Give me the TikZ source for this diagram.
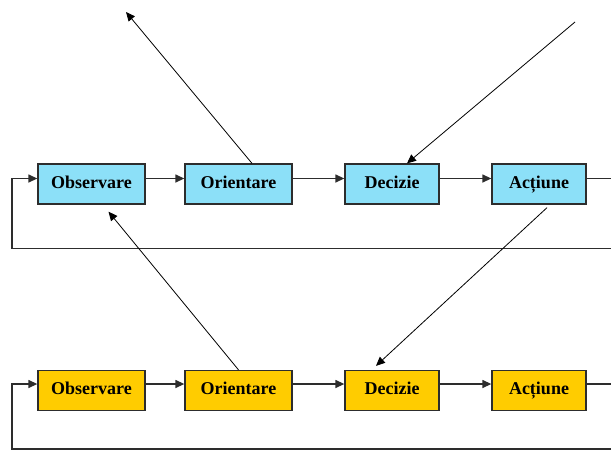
\documentclass[tikz,border=0pt]{standalone}
\usepackage{fontspec}
\setmainfont{Liberation Serif}
\usetikzlibrary{arrows.meta}
\definecolor{boxblue}{RGB}{140,224,248}
\definecolor{boxgold}{RGB}{255,204,0}
\definecolor{linegray}{RGB}{45,45,45}
\tikzset{
  stage/.style={draw=linegray, line width=1.3pt, minimum height=40pt, inner sep=0pt,
    text height=11.5pt, text depth=3.5pt,
    font=\fontsize{18}{21}\selectfont\bfseries},
  wide/.style={minimum width=107pt},
  narrow/.style={minimum width=94pt},
  blue stage/.style={stage, fill=boxblue},
  gold stage/.style={stage, fill=boxgold},
  flow/.style={draw=linegray, line width=1.3pt},
  flowarrow/.style={flow, -{Triangle[length=9pt,width=8pt]}},
  link/.style={draw=black, line width=0.8pt, -{Triangle[length=9pt,width=8pt]}}
}
\begin{document}
\begin{tikzpicture}[x=1pt,y=-1pt]
\useasboundingbox (0,0) rectangle (611,451);

% upper loop
\node[blue stage, wide]   (obs1) at (91.5,184) {Observare};
\node[blue stage, wide]   (ori1) at (238.5,184) {Orientare};
\node[blue stage, narrow] (dec1) at (392,184) {Decizie};
\node[blue stage, narrow] (act1) at (539,184) {Acțiune};

% lower loop
\node[gold stage, wide]   (obs2) at (91.5,390.5) {Observare};
\node[gold stage, wide]   (ori2) at (238.5,390.5) {Orientare};
\node[gold stage, narrow] (dec2) at (392,390.5) {Decizie};
\node[gold stage, narrow] (act2) at (539,390.5) {Acțiune};

% free ends
\coordinate (out1) at (611,178.5);
\coordinate (back1) at (611,248.5);
\coordinate (left1) at (12,248.5);
\coordinate (out2) at (611,384);
\coordinate (back2) at (611,449);
\coordinate (left2) at (12,449);
\coordinate (upleft) at (126,12);
\coordinate (upright) at (575,22);

% upper chain
\draw[flowarrow] ([yshift=5.5pt]obs1.east) -- ([yshift=5.5pt]ori1.west);
\draw[flowarrow] ([yshift=5.5pt]ori1.east) -- ([yshift=5.5pt]dec1.west);
\draw[flowarrow] ([yshift=5.5pt]dec1.east) -- ([yshift=5.5pt]act1.west);
\draw[flow] ([yshift=5.5pt]act1.east) -- (out1);
\draw[flowarrow] (back1) -- (left1) |- ([yshift=5.5pt]obs1.west);

% lower chain
\draw[flowarrow] ([yshift=6.5pt]obs2.east) -- ([yshift=6.5pt]ori2.west);
\draw[flowarrow] ([yshift=6.5pt]ori2.east) -- ([yshift=6.5pt]dec2.west);
\draw[flowarrow] ([yshift=6.5pt]dec2.east) -- ([yshift=6.5pt]act2.west);
\draw[flow] ([yshift=6.5pt]act2.east) -- (out2);
\draw[flowarrow] (back2) -- (left2) |- ([yshift=6.5pt]obs2.west);

% cross links
\draw[link] ([xshift=13.5pt]ori1.north) -- (upleft);
\draw[link] (upright) -- ([xshift=15pt]dec1.north);
\draw[link] (ori2.north) -- ([xshift=17pt,yshift=-7pt]obs1.south);
\draw[link] ([xshift=8pt,yshift=-3pt]act1.south) -- ([xshift=-16pt,yshift=4pt]dec2.north);
\end{tikzpicture}
\end{document}
